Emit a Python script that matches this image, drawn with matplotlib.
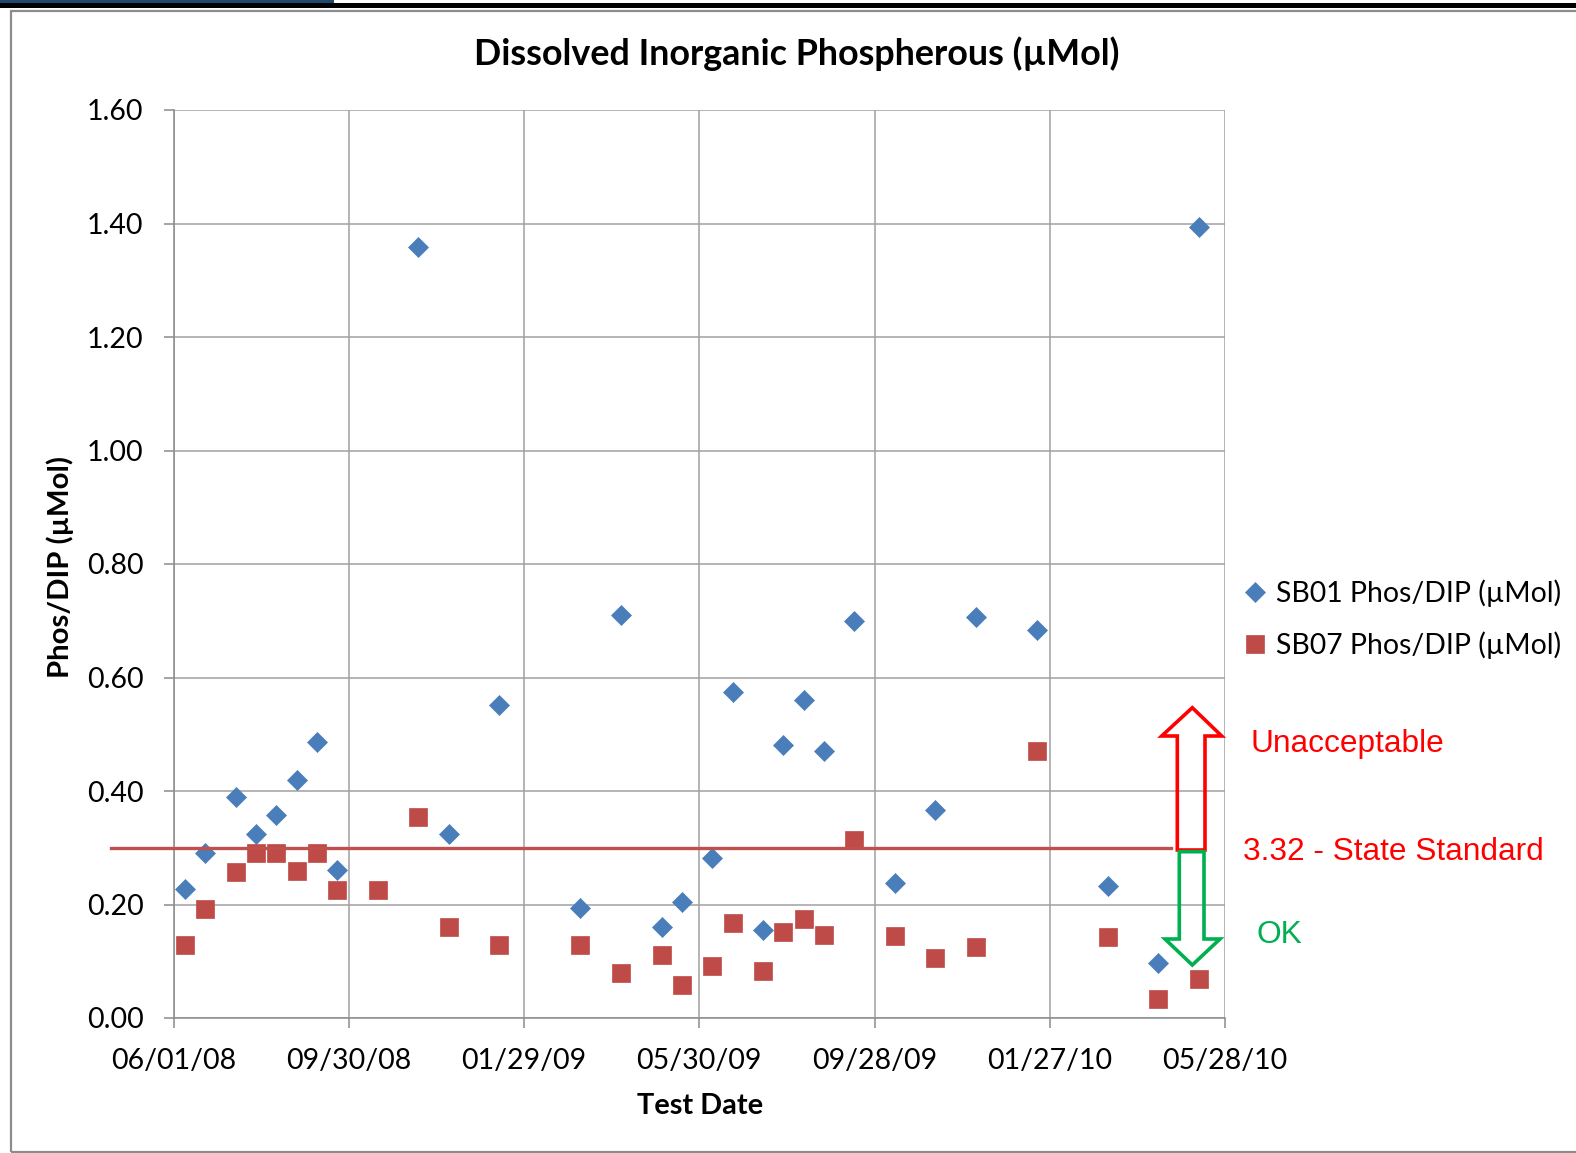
import matplotlib
matplotlib.use("Agg")
import matplotlib.pyplot as plt
import matplotlib.dates as mdates
from matplotlib.patches import Polygon, Rectangle
import pandas as pd

# ---------------- data ----------------
title = "Dissolved Inorganic Phospherous (\u00b5Mol)"
x_label = "Test Date"
y_label = "Phos/DIP (\u00b5Mol)"
sb01_label = "SB01 Phos/DIP (\u00b5Mol)"
sb07_label = "SB07 Phos/DIP (\u00b5Mol)"

sb01_dates = ["2008-06-09", "2008-06-23", "2008-07-14", "2008-07-28", "2008-08-11",
              "2008-08-25", "2008-09-08", "2008-09-22", "2008-11-17", "2008-12-08",
              "2009-01-12", "2009-03-09", "2009-04-06", "2009-05-04", "2009-05-18",
              "2009-06-08", "2009-06-22", "2009-07-13", "2009-07-27", "2009-08-10",
              "2009-08-24", "2009-09-14", "2009-10-12", "2009-11-09", "2009-12-07",
              "2010-01-18", "2010-03-08", "2010-04-12", "2010-05-10"]
sb01_values = [0.228, 0.291, 0.389, 0.325, 0.357, 0.420, 0.487, 0.260, 1.359, 0.325,
               0.551, 0.194, 0.711, 0.161, 0.204, 0.282, 0.574, 0.155, 0.481, 0.561,
               0.470, 0.700, 0.238, 0.367, 0.706, 0.683, 0.232, 0.097, 1.393]

sb07_dates = ["2008-06-09", "2008-06-23", "2008-07-14", "2008-07-28", "2008-08-11",
              "2008-08-25", "2008-09-08", "2008-09-22", "2008-10-20", "2008-11-17",
              "2008-12-08", "2009-01-12", "2009-03-09", "2009-04-06", "2009-05-04",
              "2009-05-18", "2009-06-08", "2009-06-22", "2009-07-13", "2009-07-27",
              "2009-08-10", "2009-08-24", "2009-09-14", "2009-10-12", "2009-11-09",
              "2009-12-07", "2010-01-18", "2010-03-08", "2010-04-12", "2010-05-10"]
sb07_values = [0.129, 0.192, 0.258, 0.291, 0.291, 0.259, 0.291, 0.226, 0.226, 0.355,
               0.161, 0.129, 0.129, 0.080, 0.111, 0.058, 0.092, 0.168, 0.082, 0.151,
               0.174, 0.146, 0.314, 0.145, 0.105, 0.125, 0.471, 0.142, 0.034, 0.069]

x_tick_dates = ["2008-06-01", "2008-09-30", "2009-01-29", "2009-05-30",
                "2009-09-28", "2010-01-27", "2010-05-28"]
y_tick_values = [0.0, 0.2, 0.4, 0.6, 0.8, 1.0, 1.2, 1.4, 1.6]

standard_value = 0.30
standard_text = "3.32 - State Standard"
upper_text = "Unacceptable"
lower_text = "OK"

# ---------------- figure ----------------
W, H = 1576, 1153
fig = plt.figure(figsize=(W / 100, H / 100), dpi=100)
fig.patch.set_facecolor("white")


def fx(x):
    return x / W


def fy(y):
    return 1 - y / H


FONT = "Lato"
BLUE = "#4A7EBB"
RED = "#BE4B48"
GRID = "#A0A0A0"

left, right, top, bottom = 173.5, 1225, 110, 1018
ax = fig.add_axes([fx(left), fy(bottom), (right - left) / W, (bottom - top) / H])

d1 = pd.to_datetime(sb01_dates)
d7 = pd.to_datetime(sb07_dates)
xt = pd.to_datetime(x_tick_dates)

ax.plot(d1, sb01_values, ls="none", marker="D", ms=9.8, color=BLUE, mec=BLUE,
        mew=0.5, label=sb01_label, zorder=3)
ax.plot(d7, sb07_values, ls="none", marker="s", ms=13.0, color=RED, mec=RED,
        mew=0.5, label=sb07_label, zorder=3)

ax.set_xlim(xt[0], xt[-1])
ax.set_ylim(y_tick_values[0], y_tick_values[-1])
ax.set_xticks(xt)
ax.xaxis.set_major_formatter(mdates.DateFormatter("%m/%d/%y"))
ax.set_yticks(y_tick_values)
ax.set_yticklabels([f"{v:.2f}" for v in y_tick_values])

ax.grid(True, color=GRID, lw=1.1)
ax.set_axisbelow(True)
for s in ["top", "right"]:
    ax.spines[s].set_visible(False)
for s in ["left", "bottom"]:
    ax.spines[s].set_color("#8C8C8C")
    ax.spines[s].set_linewidth(1.1)
ax.tick_params(axis="both", direction="out", length=7.4, width=1.1, color="#8C8C8C",
               labelsize=20.5, labelcolor="black")
ax.tick_params(axis="y", pad=14.2)
ax.tick_params(axis="x", pad=14.5)
for lab in ax.get_xticklabels() + ax.get_yticklabels():
    lab.set_fontfamily(FONT)

ax.set_xlabel(x_label, fontfamily=FONT, fontweight="bold", fontsize=20.8)
ax.set_ylabel(y_label, fontfamily=FONT, fontweight="bold", fontsize=21.2)
ax.xaxis.label.set_va("center")
ax.yaxis.label.set_va("center")
ax.xaxis.set_label_coords((700.5 - left) / (right - left), -(1106 - bottom) / (bottom - top))
ax.yaxis.set_label_coords(-(left - 60) / (right - left), (bottom - 567) / (bottom - top))

fig.text(fx(797), fy(54), title, ha="center", va="center", fontfamily=FONT,
         fontweight="bold", fontsize=25.8)

# standard line (drawn shape extending beyond plot)
ax.axhline(standard_value, xmin=(110.5 - left) / (right - left),
           xmax=(1171 - left) / (right - left), color="#C0504D", lw=2.4,
           clip_on=False, zorder=5)

# legend
leg = ax.legend(loc="upper left", bbox_to_anchor=(fx(1241), fy(579)),
                bbox_transform=fig.transFigure, frameon=False, borderpad=0,
                borderaxespad=0, handlelength=1.0, handletextpad=0.22,
                labelspacing=0.86, prop={"family": FONT, "size": 20.4})

# arrows (outlined block arrows)
up = [(1192.3, 707.7), (1221.7, 736), (1205, 736), (1205, 850),
      (1177.3, 850), (1177.3, 736), (1161.7, 736)]
down = [(1179.3, 851.7), (1204, 851.7), (1204, 939), (1220, 939),
        (1192.3, 965), (1165, 939), (1179.3, 939)]
fig.add_artist(Polygon([(fx(x), fy(y)) for x, y in up], closed=True, fill=False,
                       ec="#FF0000", lw=2.6, joinstyle="miter",
                       transform=fig.transFigure))
fig.add_artist(Polygon([(fx(x), fy(y)) for x, y in down], closed=True, fill=False,
                       ec="#00B050", lw=2.6, joinstyle="miter",
                       transform=fig.transFigure))

fig.text(fx(1250.7), fy(744), upper_text, ha="left", va="center",
         fontfamily="Liberation Sans", fontsize=22.8, color="#FF0000")
fig.text(fx(1242.7), fy(852), standard_text, ha="left", va="center",
         fontfamily="Liberation Sans", fontsize=22.8, color="#FF0000")
fig.text(fx(1257), fy(935), lower_text, ha="left", va="center",
         fontfamily="Liberation Sans", fontsize=22.8, color="#00B050")

# chart frame and slide remnants at top
fig.add_artist(Rectangle((fx(11), fy(1151.5)), fx(1600) - fx(11), fy(11) - fy(1151.5),
                         fill=False, ec="#8C8C8C", lw=1.6, transform=fig.transFigure))
fig.add_artist(Rectangle((0, fy(8.3)), 1, fy(2.7) - fy(8.3), fc="black", ec="none",
                         transform=fig.transFigure))
fig.add_artist(Rectangle((0, fy(2.7)), fx(334), 1 - fy(2.7), fc="#1F4A6E", ec="none",
                         transform=fig.transFigure))

fig.savefig("out.png", dpi=100)
